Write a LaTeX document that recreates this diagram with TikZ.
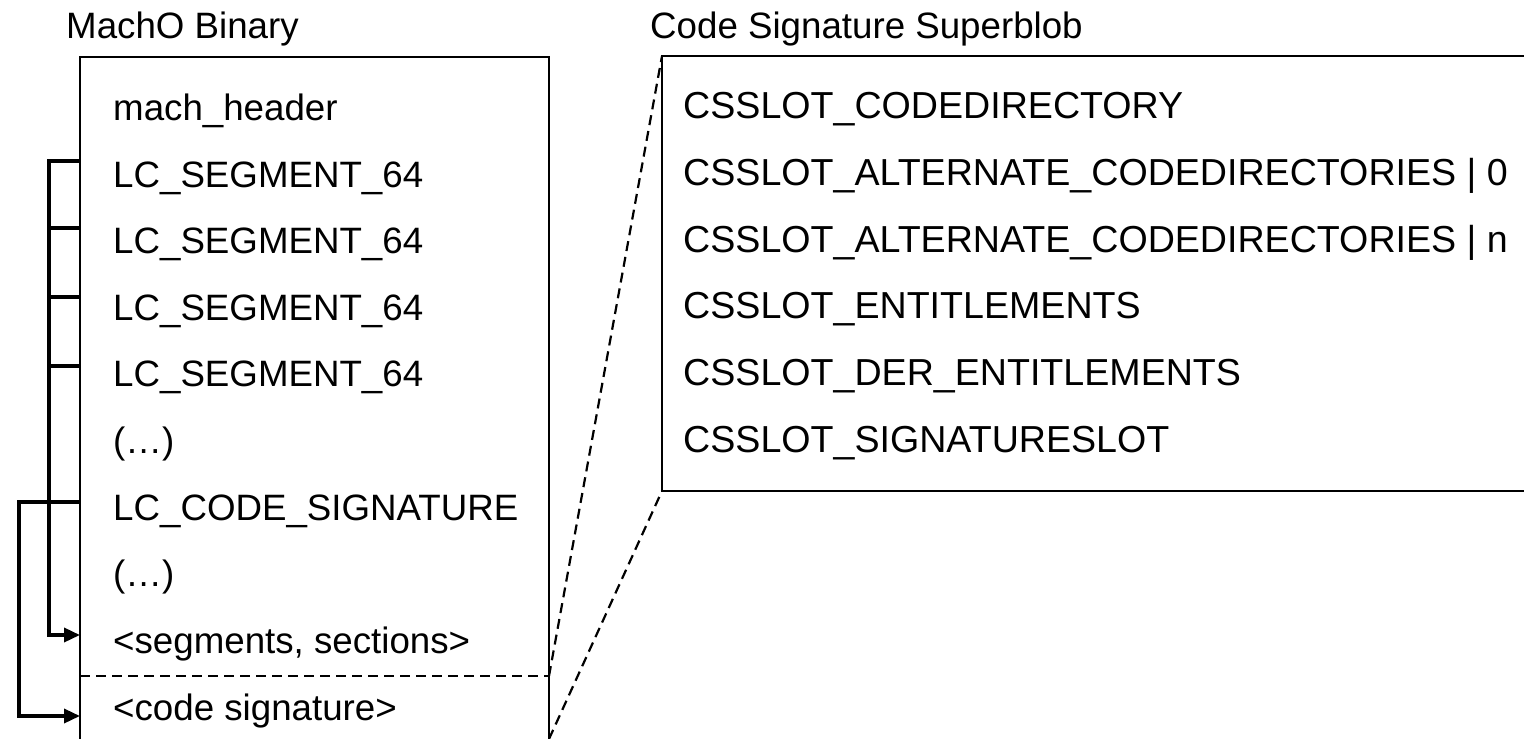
\documentclass[tikz,border=0pt]{standalone}
\usepackage{fontspec}
\setmainfont{Liberation Sans}
\usetikzlibrary{arrows.meta}

\tikzset{
	row/.style={anchor=base west, inner sep=0pt, font=\fontsize{36.7}{44}\selectfont},
	slot/.style={anchor=base west, inner sep=0pt, font=\fontsize{37.6}{45}\selectfont},
	caption/.style={anchor=base west, inner sep=0pt, font=\fontsize{36.7}{44}\selectfont},
	frame/.style={line width=1.5pt},
	link/.style={line width=3.5pt},
	linkarrow/.style={line width=3.5pt, -{Triangle[length=16pt,width=14pt]}},
	zoomline/.style={line width=2.2pt, dash pattern=on 10pt off 6pt},
}

\begin{document}
\begin{tikzpicture}[x=1pt,y=-1pt]
	\useasboundingbox (0,0) rectangle (1524,739);

	% MachO binary box, open at the bottom
	\coordinate (M1) at (80, 739);
	\coordinate (M2) at (80, 57);
	\coordinate (M3) at (549, 57);
	\coordinate (M4) at (549, 739);
	\coordinate (M5) at (80, 676);
	\coordinate (M6) at (549, 676);

	% superblob box, open at the right
	\coordinate (S1) at (662, 56);
	\coordinate (S2) at (1530, 56);
	\coordinate (S3) at (662, 491);
	\coordinate (S4) at (1530, 491);

	% load command links
	\coordinate (T1) at (80, 161);
	\coordinate (T2) at (80, 228);
	\coordinate (T3) at (80, 297);
	\coordinate (T4) at (80, 366);
	\coordinate (TC) at (80, 502);
	\coordinate (AS) at (80, 635);
	\coordinate (AC) at (80, 716);

	\node[caption] (machotitle) at (66, 38) {MachO Binary};
	\node[caption] (blobtitle) at (650, 38) {Code Signature Superblob};

	\node[row] (header) at (113, 120) {mach\_header};
	\node[row] (seg1) at (113, 187) {LC\_SEGMENT\_64};
	\node[row] (seg2) at (113, 253) {LC\_SEGMENT\_64};
	\node[row] (seg3) at (113, 320) {LC\_SEGMENT\_64};
	\node[row] (seg4) at (113, 386) {LC\_SEGMENT\_64};
	\node[row] (more1) at (113, 453) {(…)};
	\node[row] (codesig) at (113, 520) {LC\_CODE\_SIGNATURE};
	\node[row] (more2) at (113, 586) {(…)};
	\node[row] (segdata) at (113, 653) {<segments, sections>};
	\node[row] (sigdata) at (113, 720) {<code signature>};

	\node[slot] (slotcd) at (683, 118) {CSSLOT\_CODEDIRECTORY};
	\node[slot] (slotalt0) at (683, 185) {CSSLOT\_ALTERNATE\_CODEDIRECTORIES | 0};
	\node[slot] (slotaltn) at (683, 252) {CSSLOT\_ALTERNATE\_CODEDIRECTORIES | n};
	\node[slot] (slotent) at (683, 318) {CSSLOT\_ENTITLEMENTS};
	\node[slot] (slotder) at (683, 385) {CSSLOT\_DER\_ENTITLEMENTS};
	\node[slot] (slotsig) at (683, 452) {CSSLOT\_SIGNATURESLOT};

	\draw[frame] (M1) -- (M2) -- (M3) -- (M4);
	\draw[zoomline] (M5) -- (M6);
	\draw[frame] (S2) -- (S1) -- (S3) -- (S4);

	\draw[zoomline] (M6) -- (S1);
	\draw[zoomline] (M4) -- (S3);

	\draw[linkarrow] (T1) -- (T1 -| 49, 0) -- (AS -| 49, 0) -- (AS);
	\draw[link] (T2) -- (T2 -| 49, 0);
	\draw[link] (T3) -- (T3 -| 49, 0);
	\draw[link] (T4) -- (T4 -| 49, 0);
	\draw[linkarrow] (TC) -- (TC -| 19, 0) -- (AC -| 19, 0) -- (AC);
\end{tikzpicture}
\end{document}
